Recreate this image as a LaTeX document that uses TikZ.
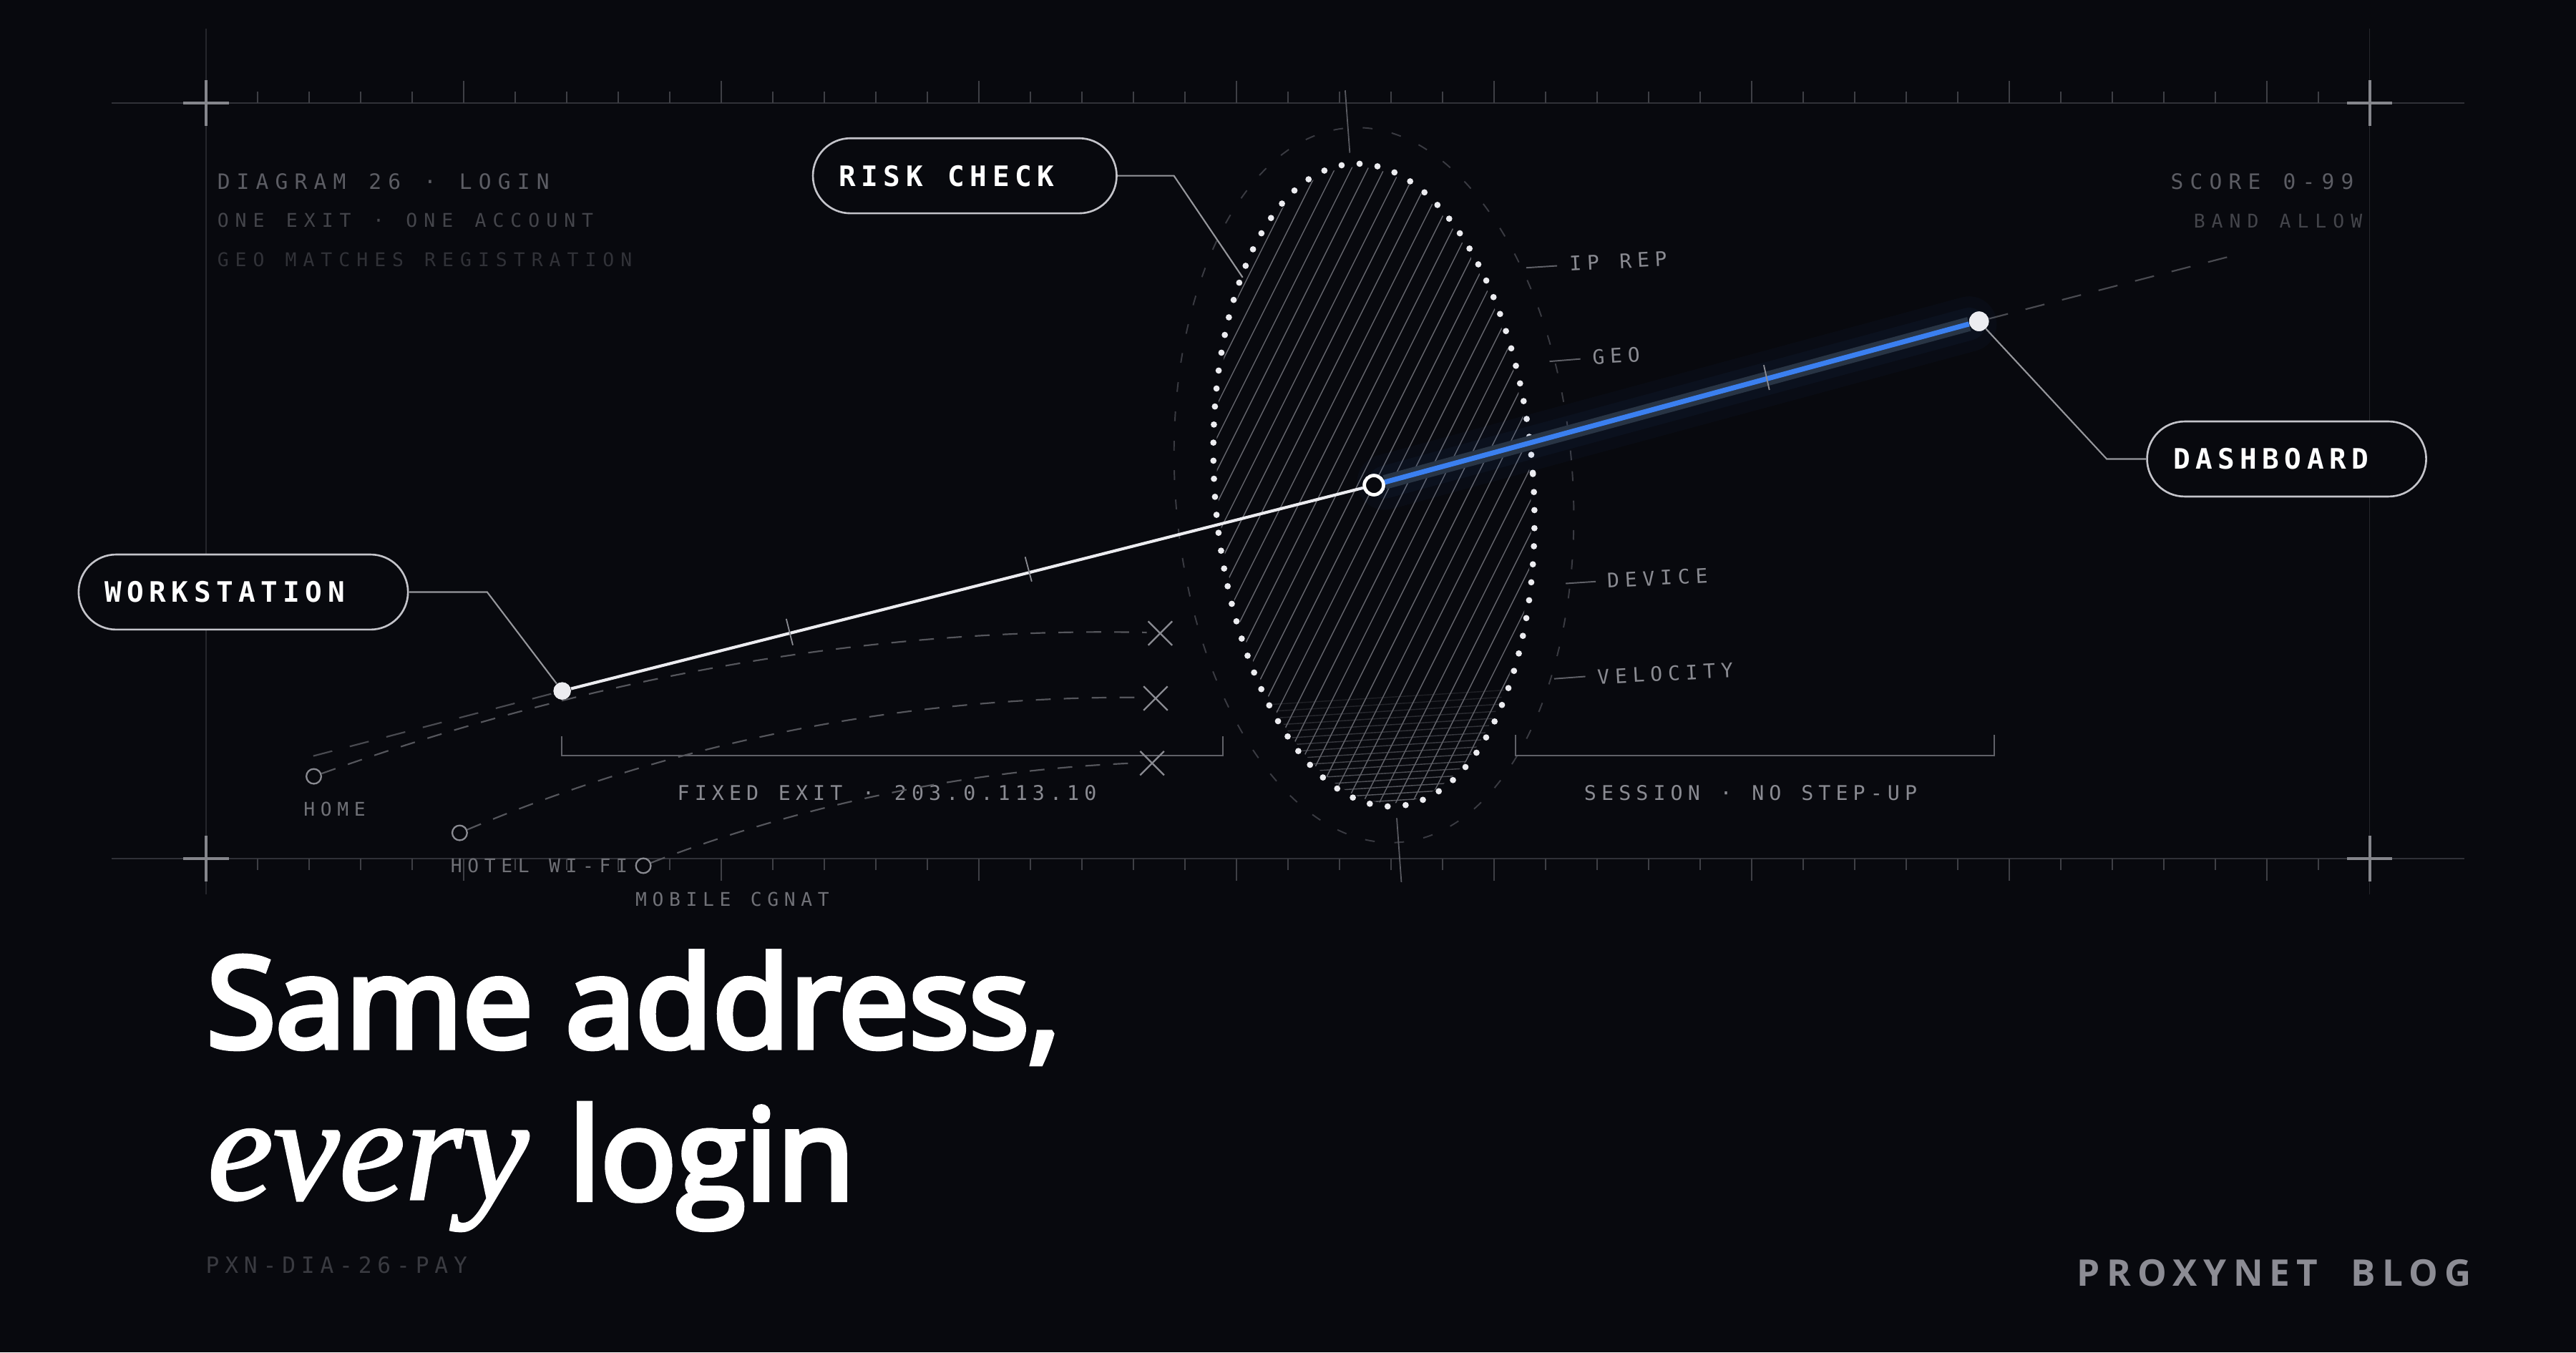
\documentclass[tikz,border=0pt]{standalone}
\usepackage{fontspec}
\usetikzlibrary{calc}
\setmainfont{Open Sans}
\newfontfamily\titlef[FakeBold=4.5]{Open Sans}
\newfontfamily\seriff[FakeBold=1.5]{Liberation Serif}
\newfontfamily\brandf[LetterSpace=18]{Open Sans}
\newfontfamily\monoA[LetterSpace=31]{DejaVu Sans Mono}
\newfontfamily\monoB[LetterSpace=34]{DejaVu Sans Mono}
\newfontfamily\monoC[LetterSpace=25]{DejaVu Sans Mono}
\newfontfamily\monoD[LetterSpace=28]{DejaVu Sans Mono}
\newfontfamily\monoE[LetterSpace=29]{DejaVu Sans Mono}
\newfontfamily\pillf[LetterSpace=19]{DejaVu Sans Mono}
\newcommand\lgap[1]{\hspace*{#1em}}

\definecolor{bg}{RGB}{8,9,14}
\definecolor{framec}{RGB}{48,49,55}
\definecolor{vframec}{RGB}{37,38,44}
\definecolor{tickc}{RGB}{62,63,69}
\definecolor{crossc}{RGB}{133,134,140}
\definecolor{txtA}{RGB}{92,93,100}
\definecolor{txtB}{RGB}{68,69,75}
\definecolor{txtC}{RGB}{49,50,56}
\definecolor{pxnc}{RGB}{58,59,65}
\definecolor{lblc}{RGB}{138,139,146}
\definecolor{homec}{RGB}{112,113,119}
\definecolor{dashc}{RGB}{85,86,92}
\definecolor{extc}{RGB}{74,75,81}
\definecolor{xc}{RGB}{138,139,146}
\definecolor{bracketc}{RGB}{96,97,104}
\definecolor{hatchc}{RGB}{100,101,108}
\definecolor{dotc}{RGB}{236,236,240}
\definecolor{outerc}{RGB}{58,59,66}
\definecolor{axisc}{RGB}{90,91,98}
\definecolor{leaderc}{RGB}{150,151,156}
\definecolor{pillc}{RGB}{196,196,202}
\definecolor{whitec}{RGB}{236,236,240}
\definecolor{bluec}{RGB}{59,128,240}
\definecolor{glowc}{RGB}{40,52,68}
\definecolor{brandc}{RGB}{140,140,148}

\tikzset{
  frameline/.style={draw=framec, line width=0.65pt},
  vline/.style={draw=vframec, line width=0.46pt},
  tickmark/.style={draw=tickc, line width=0.52pt},
  crossmark/.style={draw=crossc, line width=1.14pt},
  mono/.style={inner sep=0pt, anchor=west},
  pill/.style={draw=pillc, line width=0.75pt, fill=bg, rounded corners=14.9pt,
    minimum height=29.85pt, inner xsep=10.4pt, inner ysep=0pt, align=left,
    text=white, font=\pillf\bfseries\fontsize{11.2}{13}\selectfont},
  leader/.style={draw=leaderc, line width=0.6pt},
  altdash/.style={draw=dashc, line width=0.62pt, dash pattern=on 5.9pt off 5.2pt},
  extdash/.style={draw=extc, line width=0.62pt, dash pattern=on 7.8pt off 7.2pt},
  xmark/.style={draw=xc, line width=0.65pt},
  srcdot/.style={circle, draw=xc, line width=0.65pt, fill=bg, minimum size=5.9pt, inner sep=0pt},
  bracket/.style={draw=bracketc, line width=0.65pt},
  hatchline/.style={draw=hatchc, line width=0.4pt},
  lbldash/.style={draw=bracketc, line width=0.55pt},
  linetick/.style={draw=xc, line width=0.52pt},
}

\begin{document}
\begin{tikzpicture}[x=0.022959cm, y=-0.022959cm]
\fill[bg] (0,0) rectangle (1568,823.2);
\useasboundingbox (0,0) rectangle (1568,823.2);

% ---------- frame ----------
\draw[vline] (125.5,17.4) -- (125.5,544.6);
\draw[vline] (1442.4,17.4) -- (1442.4,544.6);
\draw[frameline] (67.8,62.6) -- (1500,62.6);
\draw[frameline] (67.8,522.6) -- (1500,522.6);
\foreach \i in {1,...,41}{
  \pgfmathsetmacro\xx{125.5+\i*31.355}
  \pgfmathtruncatemacro\m{mod(\i,5)}
  \ifnum\m=0 \def\tl{13.6}\else\def\tl{7}\fi
  \draw[tickmark] (\xx,62.6) -- (\xx,62.6-\tl);
  \draw[tickmark] (\xx,522.6) -- (\xx,522.6+\tl);
}
\foreach \cx/\cy in {125.5/62.6, 1442.4/62.6, 125.5/522.6, 1442.4/522.6}{
  \draw[crossmark] (\cx-13.8,\cy) -- (\cx+13.8,\cy);
  \draw[crossmark] (\cx,\cy-14) -- (\cx,\cy+14);
}

% ---------- corner texts ----------
\node[mono, text=txtA, font=\monoA\fontsize{8.42}{10}\selectfont] (t1) at (132,110.6) {DIAGRAM\lgap{1.08}26\lgap{1.08}·\lgap{1.08}LOGIN};
\node[mono, text=txtB, font=\monoB\fontsize{7.53}{9}\selectfont] (t2) at (132,134.3) {ONE\lgap{1.15}EXIT\lgap{1.15}·\lgap{1.15}ONE\lgap{1.15}ACCOUNT};
\node[mono, text=txtC, font=\monoB\fontsize{7.53}{9}\selectfont] (t3) at (132,158) {GEO\lgap{1.1}MATCHES\lgap{1.1}REGISTRATION};
\node[mono, text=txtA, font=\monoA\fontsize{8.42}{10}\selectfont] (t4) at (1321,110.4) {SCORE\lgap{1.06}0-99};
\node[mono, text=txtB, font=\monoB\fontsize{7.53}{9}\selectfont] (t5) at (1335,134.4) {BAND\lgap{1.1}ALLOW};

% ---------- risk ellipse ----------
\coordinate (c) at (836.3,295.3);
\draw[draw=outerc, line width=0.55pt, dash pattern=on 3.9pt off 7.8pt, rotate around={4:(c)}]
  (c) ellipse [x radius=121, y radius=218];
\draw[draw=axisc, line width=0.5pt] (818.8,55) -- (821.6,93);
\draw[draw=axisc, line width=0.5pt] (850.2,498) -- (853,537);
\begin{scope}
  \clip[rotate around={4:(c)}] (c) ellipse [x radius=95, y radius=194];
  \foreach \i in {-22,...,22}{
    \draw[hatchline] ({836.3+10*\i-110},515.3) -- ({836.3+10*\i+110},75.3);
  }
  \foreach \j in {0,...,17}{
    \pgfmathsetmacro\op{0.25+0.045*\j}
    \draw[hatchline, opacity=\op] (730,{431.47+4.2*\j}) -- (945,{418.35+4.2*\j});
  }
\end{scope}
\draw[draw=dotc, line width=2.5pt, line cap=round, dash pattern=on 0pt off 7.19pt, rotate around={4:(c)}]
  (c) ellipse [x radius=97, y radius=196];

% ellipse labels
\draw[lbldash] (929,163) -- (947.8,161.8);
\node[mono, rotate=3, text=lblc, font=\monoD\fontsize{7.97}{9}\selectfont] (lip) at (955,160.6) {IP\lgap{1.02}REP};
\draw[lbldash] (943.2,220) -- (962,218.5);
\node[mono, rotate=3, text=lblc, font=\monoD\fontsize{7.97}{9}\selectfont] (lgeo) at (969,217.4) {GEO};
\draw[lbldash] (953,355.2) -- (971.3,354);
\node[mono, rotate=3, text=lblc, font=\monoD\fontsize{7.97}{9}\selectfont] (ldev) at (978,353.5) {DEVICE};
\draw[lbldash] (946,413.2) -- (965,411.8);
\node[mono, rotate=3, text=lblc, font=\monoD\fontsize{7.97}{9}\selectfont] (lvel) at (972,412.2) {VELOCITY};

% ---------- brackets ----------
\draw[bracket] (342,448) -- (342,460) -- (744.3,460) -- (744.3,448);
\node[mono, text=lblc, font=\monoC\fontsize{8.06}{10}\selectfont] (fixed) at (412,482.6) {FIXED\lgap{0.98}EXIT\lgap{0.98}·\lgap{0.98}203.0.113.10};
\draw[bracket] (922.4,447.5) -- (922.4,460) -- (1214,460) -- (1214,447.5);
\node[mono, text=lblc, font=\monoC\fontsize{8.06}{10}\selectfont] (sess) at (964,482.5) {SESSION\lgap{0.98}·\lgap{0.98}NO\lgap{0.98}STEP-UP};

% ---------- alternative sources ----------
\node[srcdot] (home) at (191,472.6) {};
\node[srcdot] (hotel) at (279.8,507) {};
\node[srcdot] (mobile) at (391.6,527) {};
\node[mono, text=homec, font=\monoE\fontsize{7.5}{9}\selectfont] (lhome) at (184.5,492.5) {HOME};
\node[mono, text=homec, font=\monoE\fontsize{7.5}{9}\selectfont] (lhotel) at (274,527) {HOTEL\lgap{1.04}WI-FI};
\node[mono, text=homec, font=\monoE\fontsize{7.5}{9}\selectfont] (lmob) at (386.5,547.4) {MOBILE\lgap{1.04}CGNAT};

\coordinate (x1) at (706.2,385.5);
\coordinate (x2) at (703.4,425.1);
\coordinate (x3) at (701.3,464.6);
\coordinate (e1) at (698,385);
\coordinate (e2) at (695.5,424.6);
\coordinate (e3) at (693.5,464.4);
\draw[altdash] (home) .. controls (363.7,410.9) and (533.3,381.5) .. (e1);
\draw[altdash] (hotel) .. controls (413.2,450.8) and (552.7,423.5) .. (e2);
\draw[altdash] (mobile) .. controls (490.5,489) and (592,468.2) .. (e3);
\foreach \p in {x1,x2,x3}{
  \draw[xmark] ($(\p)+(-7.3,-7.3)$) -- ($(\p)+(7.3,7.3)$);
  \draw[xmark] ($(\p)+(-7.3,7.3)$) -- ($(\p)+(7.3,-7.3)$);
}

% ---------- main path ----------
\node[circle, fill=whitec, minimum size=6.9pt, inner sep=0pt] (ws) at (342.2,420.6) {};
\node[circle, draw=white, line width=1.31pt, fill=bg, minimum size=7.6pt, inner sep=0pt] (ctr) at (836.3,295.3) {};
\node[circle, fill=whitec, minimum size=7.8pt, inner sep=0pt] (dash) at (1204.6,195.6) {};
\coordinate (wsback) at (190.7,460.2);
\coordinate (dashfwd) at (1356.9,156.2);

\draw[extdash] (wsback) -- (ws);
\draw[extdash] (dash) -- (dashfwd);
\draw[draw=whitec, line width=1.18pt] (ws) -- (ctr);
\draw[draw=bluec, line width=22pt, opacity=0.03, line cap=round] (ctr) -- (dash);
\draw[draw=bluec, line width=13pt, opacity=0.045, line cap=round] (ctr) -- (dash);
\draw[draw=glowc, line width=5.7pt] (ctr) -- (dash);
\draw[draw=bluec, line width=2.0pt] (ctr) -- (dash);
\node[circle, draw=white, line width=1.31pt, fill=bg, minimum size=7.6pt, inner sep=0pt] at (ctr) {};
\node[circle, fill=whitec, minimum size=7.8pt, inner sep=0pt] at (dash) {};
\node[circle, fill=whitec, minimum size=6.9pt, inner sep=0pt] at (ws) {};

\draw[linetick] (478.6,376.7) -- (482.6,392.7);
\draw[linetick] (624,339) -- (628,354);
\draw[linetick] (1073.6,222.2) -- (1077,237.4);

% ---------- pills ----------
\node[pill, text width=100.0pt] (risk) at (587.25,107) {RISK\lgap{0.89}CHECK};
\node[pill, text width=110.2pt] (wsbox) at (148.1,360.4) {WORKSTATION};
\node[pill, text width=90.2pt] (dashbox) at (1391.85,279.4) {DASHBOARD};
\coordinate (riskend) at (756.4,168.9);
\draw[leader] (risk.east) -- ++(34.3,0) -- (riskend);
\draw[leader] (wsbox.east) -- ++(47.6,0) -- (ws);
\draw[leader] (dashbox.west) -- ++(-24,0) -- (dash);

% ---------- title ----------
\node[anchor=base west, inner sep=0pt, text=white, font=\titlef\fontsize{50}{60}\selectfont] (title1) at (125.5,637.5) {Same address,};
\node[anchor=base west, inner sep=0pt, text=white, font=\titlef\fontsize{50}{60}\selectfont] (title2) at (126,730) {{\seriff\itshape\fontsize{59}{60}\selectfont every}\hspace{3pt} login};
\node[mono, text=pxnc, font=\monoC\fontsize{8.9}{10}\selectfont] (pxn) at (125,770) {PXN-DIA-26-PAY};
\node[mono, text=brandc, font=\brandf\bfseries\fontsize{14.6}{16}\selectfont] (brand) at (1264,775) {PROXYNET\lgap{0.9}BLOG};
\end{tikzpicture}
\end{document}
